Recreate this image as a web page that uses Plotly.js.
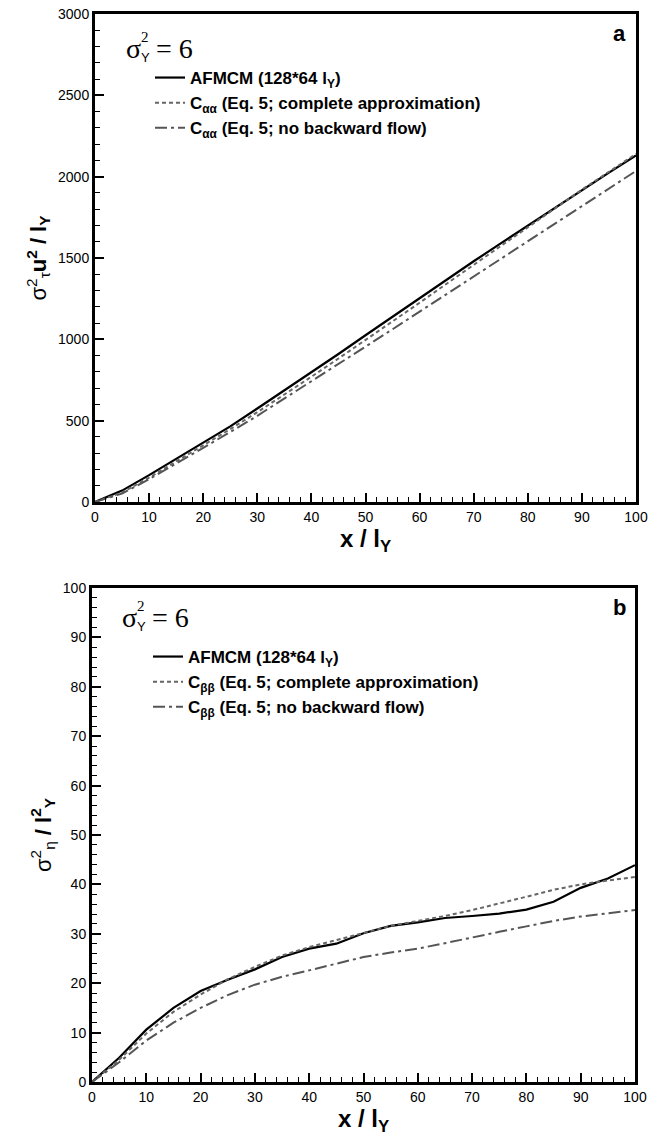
<!DOCTYPE html>
<html>
<head>
<meta charset="utf-8">
<script src="https://cdn.plot.ly/plotly-3.0.1.min.js"></script>
<style>html,body{margin:0;padding:0;background:#fff;}#chart{width:662px;height:1140px;}</style>
</head>
<body>
<div id="chart"></div>
<script>
// x positions (x / l_Y)
const xVals = [0,5,10,15,20,25,30,35,40,45,50,55,60,65,70,75,80,85,90,95,100];

// Panel a: sigma_tau^2 u^2 / l_Y
const afmcmA    = [0,70,165,265,365,465,575,685,795,910,1025,1140,1255,1370,1480,1590,1700,1810,1920,2025,2130];
const completeA = [0,58,150,248,348,448,552,660,770,882,995,1110,1225,1342,1458,1575,1690,1805,1920,2030,2140];
const noBackA   = [0,52,140,235,332,430,530,635,740,848,955,1062,1170,1278,1385,1492,1600,1710,1818,1925,2035];

// Panel b: sigma_eta^2 / l_Y^2
const afmcmB    = [0,4.9,10.6,15.0,18.4,20.7,22.8,25.3,27.0,28.0,30.1,31.6,32.3,33.2,33.6,34.1,34.9,36.5,39.3,41.2,43.9];
const completeB = [0,4.5,9.8,14.2,17.7,20.8,23.3,25.6,27.3,28.7,30.2,31.6,32.6,33.6,34.8,36.1,37.5,38.9,40.0,40.8,41.5];
const noBackB   = [0,4.0,8.4,12.0,15.0,17.6,19.7,21.3,22.6,24.0,25.3,26.2,27.0,28.1,29.3,30.4,31.5,32.6,33.5,34.2,34.8];

const namesA = ['AFMCM (128*64 l<sub>Y</sub>)', 'C<sub>αα</sub> (Eq. 5; complete approximation)', 'C<sub>αα</sub> (Eq. 5; no backward flow)'];
const namesB = ['AFMCM (128*64 l<sub>Y</sub>)', 'C<sub>ββ</sub> (Eq. 5; complete approximation)', 'C<sub>ββ</sub> (Eq. 5; no backward flow)'];

const styles = [
  {color:'#000000', width:2.2, dash:'solid'},
  {color:'#666666', width:2, dash:'4px,3px'},
  {color:'#555555', width:2, dash:'12px,4px,3px,4px'}
];

const FONT = 'Liberation Sans, Arial, Helvetica, sans-serif';
const SERIF = 'Liberation Serif, Times New Roman, serif';

function mk(y, i, names, xa, ya, leg) {
  return {x: xVals, y: y, type:'scatter', mode:'lines', name:'<b>'+names[i]+'</b>',
    line: styles[i], xaxis: xa, yaxis: ya, legend: leg, hoverinfo:'skip'};
}

const data = [
  mk(afmcmA,0,namesA,'x','y','legend'),
  mk(completeA,1,namesA,'x','y','legend'),
  mk(noBackA,2,namesA,'x','y','legend'),
  mk(afmcmB,0,namesB,'x2','y2','legend2'),
  mk(completeB,1,namesB,'x2','y2','legend2'),
  mk(noBackB,2,namesB,'x2','y2','legend2')
];

const W = 662, H = 1140;
function xax(d0, d1, anchor) {
  return {domain:[d0/W, d1/W], anchor: anchor, range:[0,100], tick0:0, dtick:10,
    ticks:'inside', ticklen:9, tickwidth:2, tickcolor:'#000',
    minor:{dtick:2, ticks:'inside', ticklen:5, tickwidth:1, tickcolor:'#000', showgrid:false},
    showline:true, linewidth:3, linecolor:'#000', mirror:true,
    showgrid:false, zeroline:false,
    tickfont:{family:FONT, size:14, color:'#000'},
    title:{text:'<b>x / l<sub>Y</sub></b>', font:{family:FONT, size:24, color:'#000'}, standoff:4}};
}
function yax(top, bot, anchor, rng, dt, mdt, title) {
  return {domain:[1-bot/H, 1-top/H], anchor: anchor, range:rng, tick0:0, dtick:dt,
    ticks:'inside', ticklen:9, tickwidth:2, tickcolor:'#000',
    minor:{dtick:mdt, ticks:'inside', ticklen:5, tickwidth:1, tickcolor:'#000', showgrid:false},
    showline:true, linewidth:3, linecolor:'#000', mirror:true,
    showgrid:false, zeroline:false,
    tickfont:{family:FONT, size:14, color:'#000'},
    title:{text:title, font:{family:FONT, size:22, color:'#000'}, standoff:6}};
}

function sigmaLabel(x0, yc) {
  return [
    {xref:'paper', yref:'paper', x:x0/W, y:1-yc/H, xanchor:'left', yanchor:'middle', showarrow:false,
     text:'σ', font:{family:SERIF, size:28, color:'#000'}},
    {xref:'paper', yref:'paper', x:(x0+15)/W, y:1-(yc-11)/H, xanchor:'left', yanchor:'middle', showarrow:false,
     text:'2', font:{family:SERIF, size:15, color:'#000'}},
    {xref:'paper', yref:'paper', x:(x0+15)/W, y:1-(yc+9)/H, xanchor:'left', yanchor:'middle', showarrow:false,
     text:'Y', font:{family:FONT, size:13, color:'#000'}},
    {xref:'paper', yref:'paper', x:(x0+30)/W, y:1-yc/H, xanchor:'left', yanchor:'middle', showarrow:false,
     text:'=&nbsp;6', font:{family:SERIF, size:28, color:'#000'}}
  ];
}

const layout = {
  width: W, height: H,
  margin:{l:0, r:0, t:0, b:0},
  paper_bgcolor:'#fff', plot_bgcolor:'#fff',
  showlegend:true,
  xaxis: xax(95, 636, 'y'),
  yaxis: yax(14, 502, 'x', [0,3000], 500, 100, 'σ<sup>2</sup><sub>τ</sub><b>u<sup>2</sup> / l<sub>Y</sub></b>'),
  xaxis2: xax(92, 635, 'y2'),
  yaxis2: yax(588, 1082, 'x2', [0,100], 10, 2, 'σ<sup>2</sup><sub>η</sub><b> / l<sup>2</sup><sub>Y</sub></b>'),
  legend: {x:150/W, y:1-60/H, xanchor:'left', yanchor:'top', bgcolor:'rgba(0,0,0,0)',
    font:{family:FONT, size:17, color:'#000'}, itemclick:false, itemdoubleclick:false},
  legend2: {x:148/W, y:1-639/H, xanchor:'left', yanchor:'top', bgcolor:'rgba(0,0,0,0)',
    font:{family:FONT, size:17, color:'#000'}, itemclick:false, itemdoubleclick:false},
  annotations: sigmaLabel(124, 48).concat(sigmaLabel(120, 617)).concat([
    {xref:'paper', yref:'paper', x:628/W, y:1-34/H, xanchor:'right', yanchor:'middle', showarrow:false,
     text:'<b>a</b>', font:{family:FONT, size:22, color:'#000'}},
    {xref:'paper', yref:'paper', x:628/W, y:1-607/H, xanchor:'right', yanchor:'middle', showarrow:false,
     text:'<b>b</b>', font:{family:FONT, size:22, color:'#000'}}
  ])
};

Plotly.newPlot('chart', data, layout, {staticPlot:true, displayModeBar:false});
</script>
</body>
</html>
